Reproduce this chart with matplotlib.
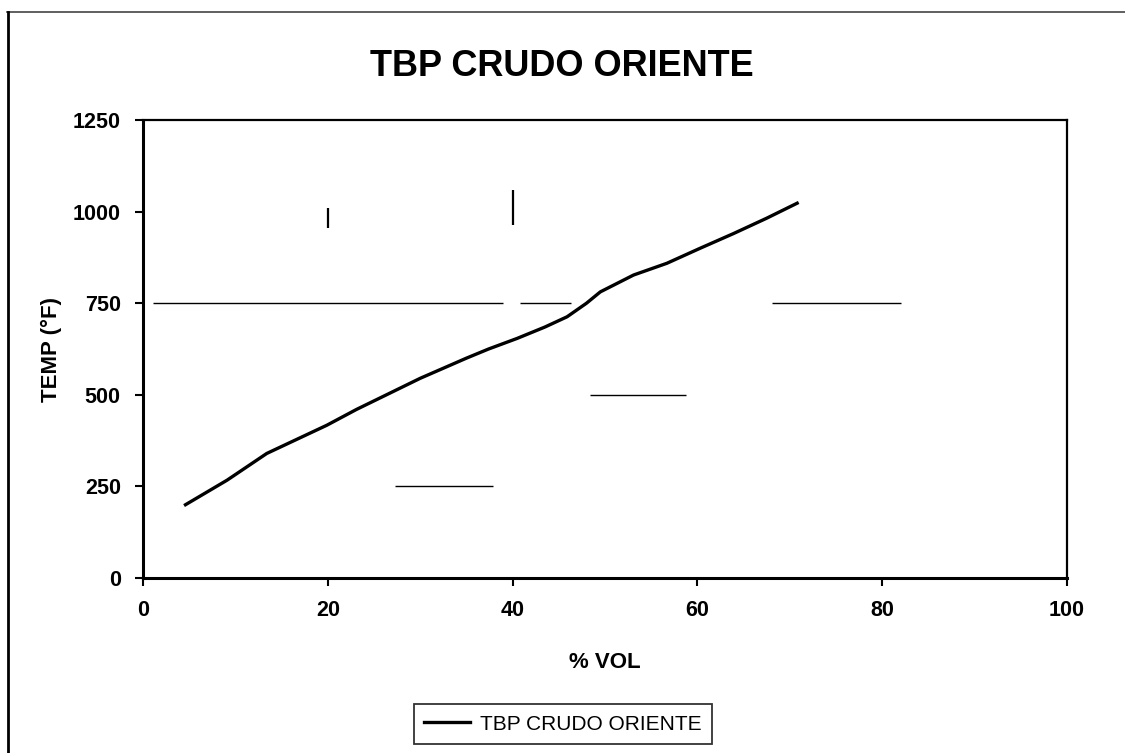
import matplotlib
matplotlib.use("Agg")
import matplotlib.pyplot as plt
from matplotlib.lines import Line2D

# TBP curve, crudo Oriente (% volume distilled vs temperature in F)
vol_pct = [4.6, 9.1, 13.4, 19.9, 23.1, 25.7, 30.0, 35.0, 37.4, 40.5, 43.5,
           45.9, 48.0, 49.5, 53.1, 56.7, 60.3, 63.9, 67.5, 70.8]
temp_f = [200, 267, 340, 417, 460, 492, 545, 600, 625, 654, 685,
          713, 750, 781, 827, 859, 900, 940, 982, 1023]

x_ticks = [0, 20, 40, 60, 80, 100]
y_ticks = [0, 250, 500, 750, 1000, 1250]

# pieces of the gridlines that survived in the printed copy
hgrid_y = [750, 750, 750, 500, 250]
hgrid_x0 = [1.1, 40.8, 68.1, 48.4, 27.3]
hgrid_x1 = [39.0, 46.3, 82.0, 58.8, 37.9]
vgrid_x = [20, 40]
vgrid_y0 = [955, 963]
vgrid_y1 = [1010, 1060]

plt.rcParams['font.family'] = ['Liberation Sans', 'DejaVu Sans']

fig = plt.figure(figsize=(11.25, 7.53), dpi=100)
ax = fig.add_axes([0.1271, 0.2324, 0.8213, 0.6082])

ax.hlines(hgrid_y, hgrid_x0, hgrid_x1, colors='black', linewidth=1.0)
ax.vlines(vgrid_x, vgrid_y0, vgrid_y1, colors='black', linewidth=1.6)

ax.plot(vol_pct, temp_f, color='black', linewidth=2.4,
        label='TBP CRUDO ORIENTE')

ax.set_xlim(0, 100)
ax.set_ylim(0, 1250)
ax.set_xticks(x_ticks)
ax.set_yticks(y_ticks)
ax.tick_params(direction='out', length=6, width=1.5, pad=10,
               labelsize=15.5)
for lab in ax.get_xticklabels() + ax.get_yticklabels():
    lab.set_fontweight('bold')

for side in ['left', 'bottom']:
    ax.spines[side].set_linewidth(2.2)
for side in ['top', 'right']:
    ax.spines[side].set_linewidth(1.6)

ax.set_xlabel('% VOL', fontsize=16, fontweight='bold', labelpad=22)
ax.set_ylabel('TEMP (°F)', fontsize=16, fontweight='bold', labelpad=8)

fig.text(0.4996, 0.912, 'TBP CRUDO ORIENTE', fontsize=26,
         fontweight='bold', ha='center', va='center')

leg = ax.legend(loc='center', bbox_to_anchor=(0.4545, -0.319),
                fontsize=15, frameon=True, fancybox=False,
                handlelength=2.2, handletextpad=0.5, borderpad=0.5,
                edgecolor='black')
leg.get_frame().set_linewidth(1.3)

# outer chart border
fig.add_artist(Line2D([0.006, 1.0], [0.984, 0.984], color='#444444',
                      linewidth=1.2, transform=fig.transFigure))
fig.add_artist(Line2D([0.007, 0.007], [0.0, 0.984], color='black',
                      linewidth=2.0, transform=fig.transFigure))

fig.savefig('out.png', dpi=100, facecolor='white')
